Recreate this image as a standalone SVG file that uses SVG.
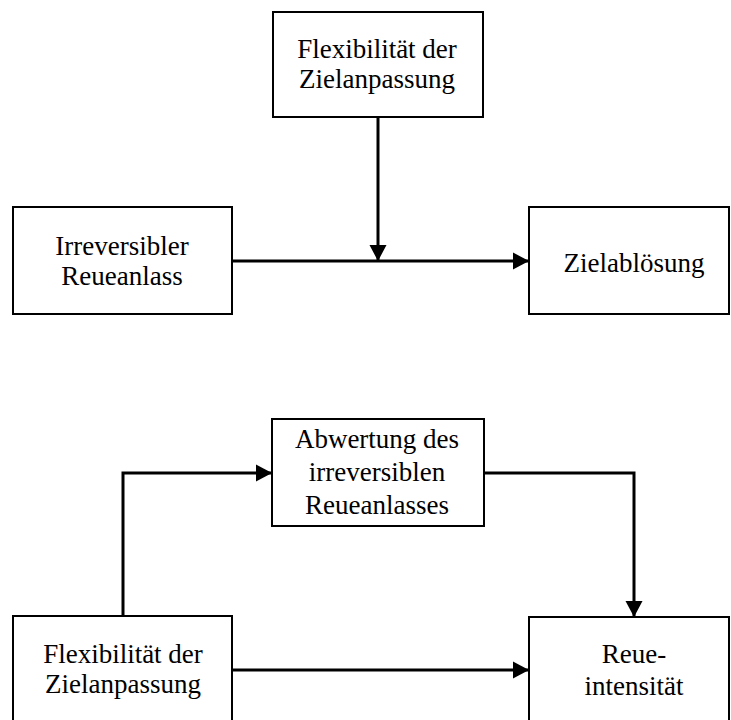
<svg xmlns="http://www.w3.org/2000/svg" width="731" height="720" viewBox="0 0 731 720">
<style>
.box{fill:#fff;stroke:#000;stroke-width:2}
.lbl{font-family:"Liberation Serif","Times New Roman",serif;font-size:27px;fill:#000;text-anchor:middle}
.con{fill:none;stroke:#000;stroke-width:3;marker-end:url(#ah)}
</style>
<defs>
<marker id="ah" markerUnits="userSpaceOnUse" markerWidth="17" markerHeight="18" refX="16" refY="8.5" orient="auto" viewBox="0 0 17 17">
<path d="M0,0 L16,8.5 L0,17 Z" fill="#000"/>
</marker>
</defs>
<rect width="731" height="720" fill="#fff"/>
<g id="connectors">
<path class="con" d="M378,117 L378,261"/>
<path class="con" d="M232,261 L529,261"/>
<path class="con" d="M123,616 L123,473 L272,473"/>
<path class="con" d="M484,473 L634,473 L634,617"/>
<path class="con" d="M232,670 L529,670"/>
</g>
<g id="flex-top">
<rect class="box" x="273" y="12" width="210" height="105"/>
<text class="lbl" x="377" y="58">Flexibilität der</text>
<text class="lbl" x="377" y="88">Zielanpassung</text>
</g>
<g id="irreversibler">
<rect class="box" x="13" y="207" width="219" height="107"/>
<text class="lbl" x="122" y="255">Irreversibler</text>
<text class="lbl" x="122" y="285">Reueanlass</text>
</g>
<g id="zielabloesung">
<rect class="box" x="529" y="207" width="200" height="107"/>
<text class="lbl" x="634" y="272">Zielablösung</text>
</g>
<g id="abwertung">
<rect class="box" x="272" y="419" width="212" height="107"/>
<text class="lbl" x="377" y="448">Abwertung des</text>
<text class="lbl" x="377" y="481">irreversiblen</text>
<text class="lbl" x="377" y="514">Reueanlasses</text>
</g>
<g id="flex-bottom">
<rect class="box" x="13" y="616" width="219" height="110"/>
<text class="lbl" x="123" y="663">Flexibilität der</text>
<text class="lbl" x="123" y="693">Zielanpassung</text>
</g>
<g id="reueintensitaet">
<rect class="box" x="529" y="617" width="200" height="110"/>
<text class="lbl" x="634" y="663">Reue-</text>
<text class="lbl" x="634" y="695">intensität</text>
</g>
</svg>
